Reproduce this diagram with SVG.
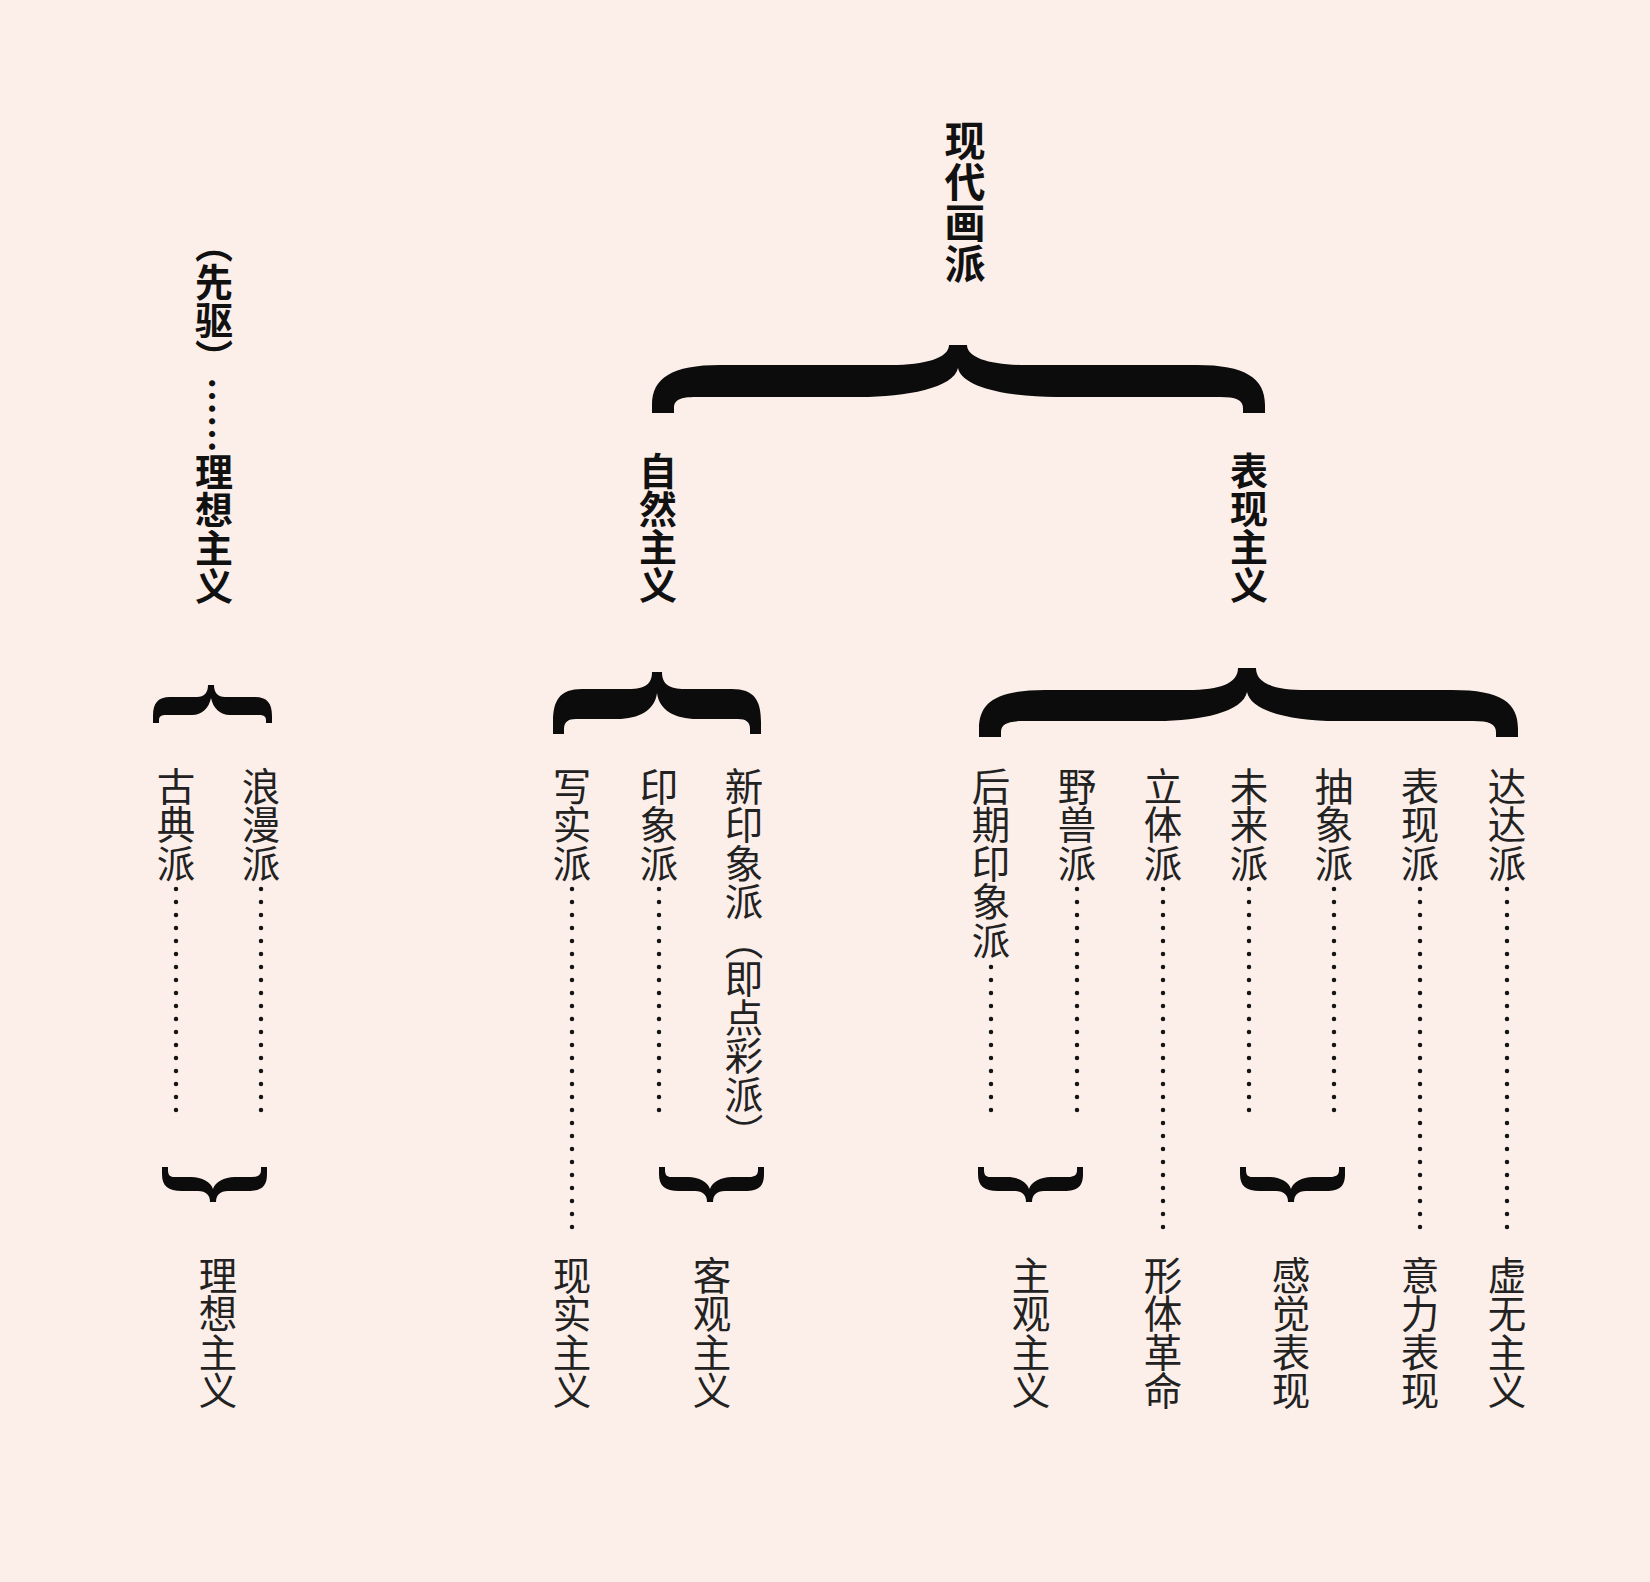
<svg xmlns="http://www.w3.org/2000/svg" xmlns:xlink="http://www.w3.org/1999/xlink" width="1650" height="1582" viewBox="0 0 1650 1582">
<style>
.b{font-family:"Noto Sans CJK SC","Noto Sans CJK JP",sans-serif;font-weight:700;fill:#111;writing-mode:vertical-rl;}
.r{font-family:"Noto Sans CJK SC","Noto Sans CJK JP",sans-serif;font-weight:400;fill:#222;font-size:38.5px;writing-mode:vertical-rl;}
.brace{fill:#0c0c0c;}
.dots{fill:none;stroke:#151515;stroke-width:4.5;stroke-dasharray:0 13;stroke-linecap:round;}
</style>
<defs>
<path id="downBrace" d="M 162 1167 L 162 1174 C 162 1186 168 1191 182 1191 L 198 1191 C 206 1191 210 1195 210 1202 L 216 1202 C 216 1195 220 1191 228 1191 L 248 1191 C 262 1191 267 1186 267 1174 L 267 1167 L 261 1167 L 261 1170 C 261 1175 258 1177 252 1177 L 235 1177 C 224 1177 215 1182 213 1189 C 211 1182 202 1177 191 1177 L 174 1177 C 170 1177 168 1175 168 1170 L 168 1167 Z"/>
</defs>
<rect x="0" y="0" width="1650" height="1582" fill="#fcefea"/>

<g id="connectors">
  <path class="brace" d="M 652 413 L 652 405 C 652 378 672 365 720 365 L 891 365 C 925 365 949 358 949 345 L 967 345 C 967 358 991 365 1025 365 L 1197 365 C 1245 365 1265 378 1265 405 L 1265 413 L 1243 413 L 1243 408 C 1243 400 1236 397 1220 397 L 1056 397 C 1010 397 962 388 958 368 C 954 388 906 397 860 397 L 696 397 C 680 397 674 400 674 408 L 674 413 Z"/>
  <path class="brace" d="M 979 737 L 979 729 C 979 703 995 690 1045 690 L 1187 690 C 1221 690 1238 683 1238 668 L 1256 668 C 1256 683 1273 690 1307 690 L 1452 690 C 1502 690 1518 703 1518 729 L 1518 737 L 1496 737 L 1496 732 C 1496 724 1489 721 1473 721 L 1337 721 C 1293 721 1251 712 1247 692 C 1243 712 1201 721 1157 721 L 1024 721 C 1008 721 1001 724 1001 732 L 1001 737 Z"/>
  <path class="brace" d="M 553 734 L 553 722 C 553 700 560 689 582 689 L 629 689 C 645 689 652 684 652 672 L 662 672 C 662 684 669 689 685 689 L 732 689 C 754 689 761 700 761 722 L 761 734 L 750 734 L 750 729 C 750 722 746 719 738 719 L 697 719 C 675 719 659 710 657 693 C 655 710 639 719 617 719 L 576 719 C 568 719 564 722 564 729 L 564 734 Z"/>
  <path class="brace" d="M 153 723 L 153 716 C 153 703 158 697 170 697 L 197 697 C 204 697 208 693 208 685 L 214 685 C 214 693 218 697 225 697 L 255 697 C 267 697 272 703 272 716 L 272 723 L 266 723 L 266 720 C 266 716 263 715 259 715 L 230 715 C 220 715 213 708 211 698 C 209 708 202 715 192 715 L 166 715 C 162 715 159 716 159 720 L 159 723 Z"/>
  <use xlink:href="#downBrace" class="brace"/>
  <use xlink:href="#downBrace" class="brace" transform="translate(497,0)"/>
  <use xlink:href="#downBrace" class="brace" transform="translate(816,0)"/>
  <use xlink:href="#downBrace" class="brace" transform="translate(1078,0)"/>
  <path class="dots" d="M176 889V1110.3M261 889V1110.3M659 889V1110.3M1077 889V1110.3M1249 889V1110.3M1334 889V1110.3M991 967V1110.3"/>
  <path class="dots" d="M572 889V1227.3M1163 889V1227.3M1420 889V1227.3M1507 889V1227.3"/>
</g>

<g id="n-root"><text class="b" x="965" y="120" font-size="41">现代画派</text></g>
<g id="n-ziran"><text class="b" x="658" y="452" font-size="38">自然主义</text></g>
<g id="n-biaoxian"><text class="b" x="1249" y="452" font-size="38">表现主义</text></g>
<g id="n-lixiang-top"><text class="b" x="214" y="225" font-size="38">（先驱）……理想主义</text></g>

<g id="n-gudian"><text class="r" x="176" y="767">古典派</text></g>
<g id="n-langman"><text class="r" x="261" y="767">浪漫派</text></g>
<g id="n-xieshi"><text class="r" x="572" y="767">写实派</text></g>
<g id="n-yinxiang"><text class="r" x="659" y="767">印象派</text></g>
<g id="n-xinyinxiang"><text class="r" x="744" y="767">新印象派（即点彩派）</text></g>
<g id="n-houqi"><text class="r" x="991" y="767">后期印象派</text></g>
<g id="n-yeshou"><text class="r" x="1077" y="767">野兽派</text></g>
<g id="n-liti"><text class="r" x="1163" y="767">立体派</text></g>
<g id="n-weilai"><text class="r" x="1249" y="767">未来派</text></g>
<g id="n-chouxiang"><text class="r" x="1334" y="767">抽象派</text></g>
<g id="n-biaoxianpai"><text class="r" x="1420" y="767">表现派</text></g>
<g id="n-dada"><text class="r" x="1507" y="767">达达派</text></g>

<g id="n-lixiang"><text class="r" x="218" y="1256">理想主义</text></g>
<g id="n-xianshi"><text class="r" x="572" y="1256">现实主义</text></g>
<g id="n-keguan"><text class="r" x="712" y="1256">客观主义</text></g>
<g id="n-zhuguan"><text class="r" x="1031" y="1256">主观主义</text></g>
<g id="n-xingti"><text class="r" x="1163" y="1256">形体革命</text></g>
<g id="n-ganjue"><text class="r" x="1291" y="1256">感觉表现</text></g>
<g id="n-yili"><text class="r" x="1420" y="1256">意力表现</text></g>
<g id="n-xuwu"><text class="r" x="1507" y="1256">虚无主义</text></g>
</svg>
